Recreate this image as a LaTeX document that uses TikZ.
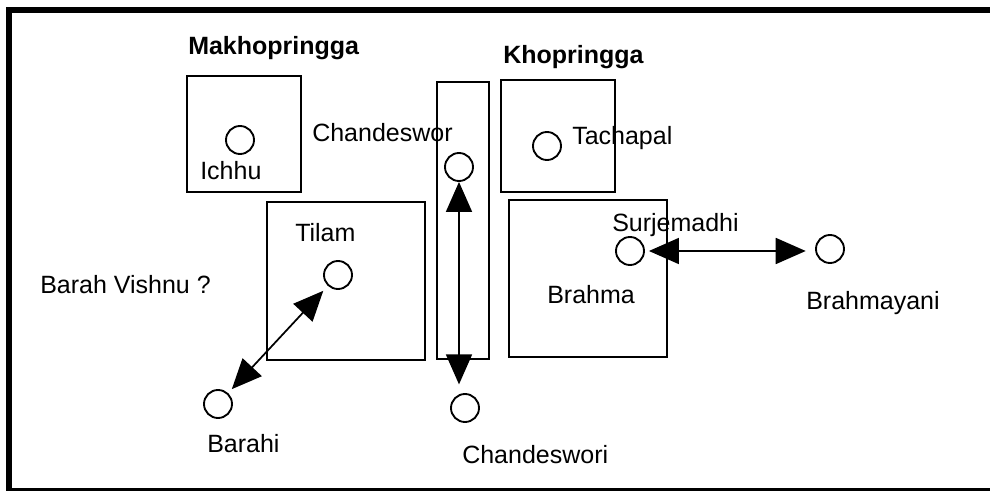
\documentclass[tikz,border=0pt]{standalone}
\usepackage{fontspec}
\setmainfont{Liberation Sans}
\usetikzlibrary{arrows.meta}
\begin{document}
\begin{tikzpicture}[x=0.75pt,y=-0.75pt,
  plot/.style={draw=black,line width=1.5pt},
  spot/.style={circle,draw=black,line width=1.4pt,minimum size=21pt,inner sep=0pt},
  label/.style={anchor=base west,inner sep=0pt,font=\fontsize{18.75pt}{22pt}\selectfont},
  heading/.style={label,font=\fontsize{18.75pt}{22pt}\selectfont\bfseries},
  link/.style={line width=1.3pt,{Triangle[length=22.5pt,width=19.5pt]}-{Triangle[length=22.5pt,width=19.5pt]}}]
\useasboundingbox (0,0) rectangle (990,491);
\clip (0,0) rectangle (990,491);

% outer frame
\draw[line width=4.5pt] (9,9.7) rectangle (1000,491.5);

% plots
\draw[plot] (187,76) rectangle (301,192);
\draw[plot] (437,82) rectangle (489,359);
\draw[plot] (501,80) rectangle (615,192);
\draw[plot] (267,202) rectangle (425,360);
\draw[plot] (509,200) rectangle (667,357);

% headings
\node[heading] (makh) at (188,55) {Makhopringga};
\node[heading] (khop) at (503,64) {Khopringga};

% shrines
\node[spot] (ichhu) at (240,140) {};
\node[spot] (chtop) at (459,167) {};
\node[spot] (chbot) at (465,408) {};
\node[spot] (tilam) at (338,275) {};
\node[spot] (barahi) at (218,404) {};
\node[spot] (tach) at (547,146) {};
\node[spot] (surj) at (630,251) {};
\node[spot] (bmy) at (830,249) {};

% names
\node[label] (tIchhu) at (200,180) {Ichhu};
\node[label] (tChand) at (312,142) {Chandeswor};
\node[label] (tTach) at (572,145) {Tachapal};
\node[label] (tTilam) at (295,242) {Tilam};
\node[label] (tSurj) at (612,232) {Surjemadhi};
\node[label] (tBV) at (40,294) {Barah Vishnu ?};
\node[label] (tBrahma) at (547,304) {Brahma};
\node[label] (tBmy) at (806,310) {Brahmayani};
\node[label] (tBarahi) at (207,453) {Barahi};
\node[label] (tChandi) at (462,464) {Chandeswori};

% links
\draw[link,shorten >=6.5pt] (chtop.south) -- (chtop.south |- chbot.north);
\draw[link,shorten <=4pt,shorten >=5pt] (barahi) -- (tilam);
\draw[link,shorten <=3pt,shorten >=7pt] (surj.east) -- (surj.east -| bmy.west);
\end{tikzpicture}
\end{document}
